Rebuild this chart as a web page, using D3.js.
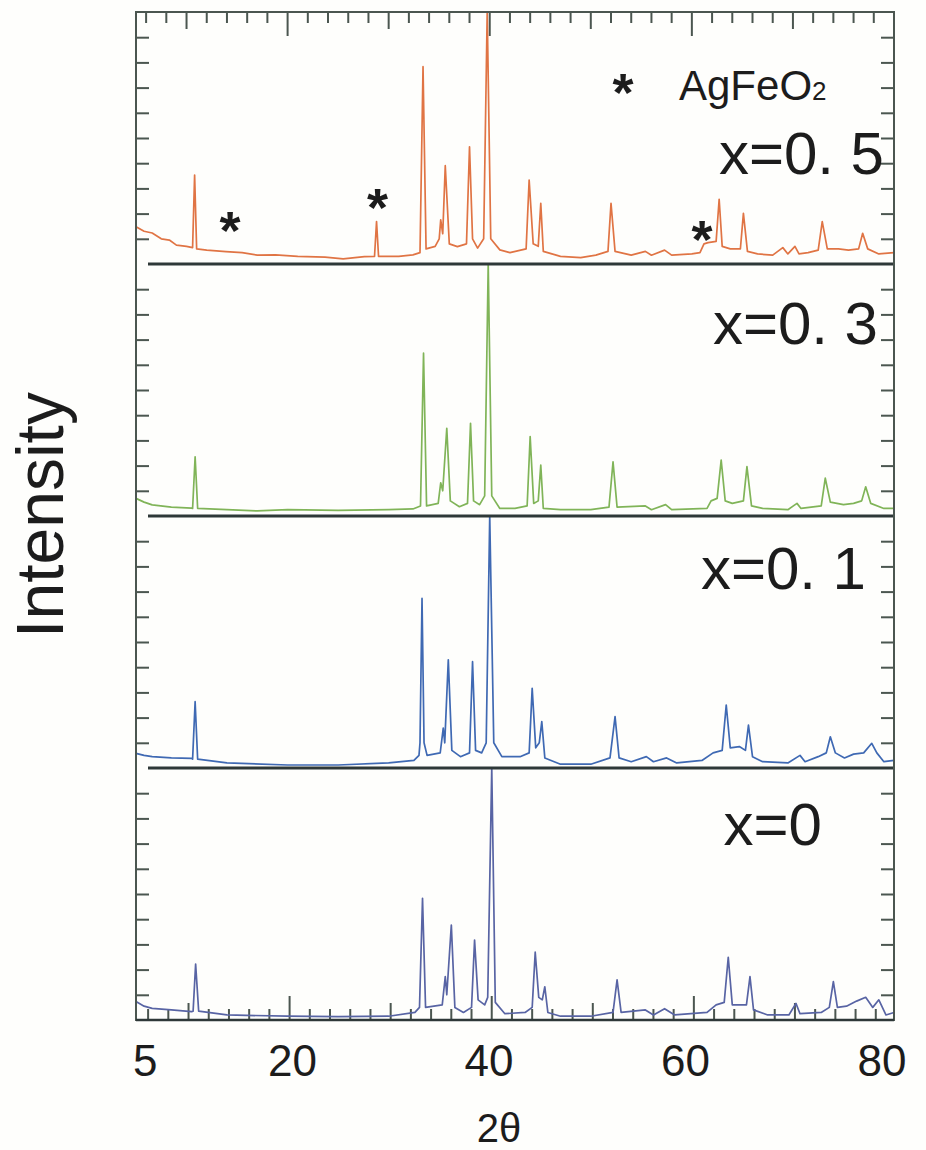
<!DOCTYPE html>
<html>
<head>
<meta charset="utf-8">
<script src="https://cdn.jsdelivr.net/npm/d3@7"></script>
<style>
  body { margin: 0; background: #fefefc; }
  text { font-family: "Liberation Sans", Arial, sans-serif; fill: #1c1c1c; }
</style>
</head>
<body>
<div id="svg-area"></div>
<script>
// XRD patterns: [2theta, intensity] (10 units per panel)
var pattern05 = [
  [5.0, 1.48], [5.8, 1.3], [6.6, 1.23], [7.5, 1.0], [8.3, 0.95], [9.0, 0.75], [10.0, 0.7], [10.6, 0.65],
  [10.8, 3.53], [11.0, 0.6], [12.0, 0.55], [13.9, 0.49], [15.5, 0.45], [17.0, 0.35], [18.8, 0.36],
  [21.0, 0.3], [23.7, 0.27], [25.5, 0.2], [27.6, 0.29], [28.6, 0.3], [28.8, 1.68], [29.0, 0.3],
  [31.0, 0.3], [32.4, 0.36], [33.1, 0.45], [33.4, 7.83], [33.7, 0.6], [34.6, 0.7], [35.0, 1.0],
  [35.15, 1.75], [35.35, 1.2], [35.6, 3.9], [36.0, 0.8], [36.8, 0.69], [37.7, 0.8], [38.0, 4.65],
  [38.3, 1.0], [38.8, 0.63], [39.4, 1.0], [39.75, 10], [40.1, 1.0], [41.0, 0.56], [42.0, 0.45],
  [43.6, 0.6], [43.9, 3.33], [44.3, 0.8], [44.8, 0.7], [45.05, 2.41], [45.3, 0.5], [47.0, 0.3],
  [49.0, 0.25], [50.5, 0.35], [51.7, 0.5], [52.0, 2.41], [52.4, 0.5], [54.0, 0.35], [55.4, 0.5],
  [56.0, 0.35], [57.3, 0.55], [58.0, 0.35], [60.0, 0.4], [60.8, 0.45], [61.2, 0.8], [61.6, 0.85],
  [62.4, 0.9], [62.7, 2.57], [63.0, 0.7], [63.8, 0.6], [64.8, 0.6], [65.1, 2.01], [65.5, 0.5],
  [66.5, 0.4], [68.0, 0.35], [69.0, 0.65], [69.5, 0.4], [70.2, 0.7], [70.6, 0.4], [71.5, 0.45],
  [72.5, 0.55], [72.9, 1.68], [73.4, 0.6], [74.5, 0.6], [75.5, 0.55], [76.5, 0.6], [76.9, 1.22],
  [77.4, 0.6], [78.5, 0.4], [80.0, 0.45]
];

var pattern03 = [
  [5.0, 0.7], [5.8, 0.55], [6.6, 0.44], [8.5, 0.35], [10.5, 0.31], [10.6, 0.3], [10.85, 2.35],
  [11.1, 0.3], [14.0, 0.25], [17.0, 0.2], [20.0, 0.25], [25.0, 0.22], [30.0, 0.25], [32.4, 0.28],
  [33.15, 0.4], [33.45, 6.46], [33.75, 0.4], [34.9, 0.5], [35.15, 1.32], [35.35, 1.0], [35.75, 3.48],
  [36.1, 0.6], [37.0, 0.37], [37.8, 0.5], [38.1, 3.68], [38.4, 0.6], [39.0, 0.45], [39.5, 0.8],
  [39.85, 10], [40.2, 0.8], [41.0, 0.3], [42.5, 0.3], [43.7, 0.4], [44.0, 3.15], [44.35, 0.5],
  [44.8, 0.6], [45.05, 2.02], [45.3, 0.3], [47.0, 0.25], [50.0, 0.25], [51.8, 0.35], [52.2, 2.15],
  [52.6, 0.35], [55.4, 0.4], [56.0, 0.25], [57.4, 0.45], [58.0, 0.25], [61.5, 0.3], [61.9, 0.6],
  [62.5, 0.7], [62.9, 2.22], [63.3, 0.6], [64.0, 0.5], [65.1, 0.6], [65.45, 1.96], [65.9, 0.4],
  [67.0, 0.3], [69.5, 0.25], [70.4, 0.5], [70.8, 0.3], [72.8, 0.4], [73.2, 1.5], [73.7, 0.55],
  [75.0, 0.45], [76.0, 0.5], [76.8, 0.6], [77.2, 1.16], [77.7, 0.5], [79.0, 0.3], [80.0, 0.3]
];

var pattern01 = [
  [5.0, 0.58], [5.8, 0.5], [6.6, 0.45], [8.5, 0.4], [10.5, 0.38], [10.6, 0.35], [10.85, 2.63],
  [11.1, 0.35], [14.0, 0.2], [20.0, 0.12], [25.0, 0.12], [30.0, 0.2], [32.5, 0.3], [33.0, 0.5],
  [33.1, 1.0], [33.3, 6.73], [33.5, 1.0], [33.8, 0.5], [35.1, 0.6], [35.4, 1.58], [35.55, 1.0],
  [35.9, 4.29], [36.25, 0.7], [37.1, 0.45], [38.0, 0.6], [38.3, 4.22], [38.6, 0.7], [39.2, 0.6],
  [39.65, 1.0], [40.0, 10], [40.4, 1.0], [41.2, 0.45], [43.0, 0.45], [43.9, 0.6], [44.2, 3.16],
  [44.55, 0.8], [44.9, 1.0], [45.15, 1.84], [45.45, 0.4], [47.0, 0.15], [50.0, 0.15], [51.9, 0.4],
  [52.4, 2.04], [52.8, 0.4], [54.0, 0.25], [55.5, 0.45], [56.2, 0.25], [57.5, 0.4], [58.5, 0.2],
  [61.0, 0.3], [62.1, 0.6], [63.0, 0.7], [63.4, 2.5], [63.8, 0.8], [64.7, 0.85], [65.3, 0.7],
  [65.6, 1.7], [66.0, 0.45], [67.0, 0.25], [69.5, 0.2], [70.7, 0.5], [71.2, 0.25], [72.5, 0.45],
  [73.3, 0.6], [73.7, 1.24], [74.2, 0.6], [75.1, 0.4], [76.0, 0.55], [77.0, 0.6], [77.8, 0.98],
  [78.3, 0.6], [79.0, 0.25], [80.0, 0.3]
];

var pattern00 = [
  [5.0, 0.73], [5.8, 0.55], [6.6, 0.46], [8.5, 0.4], [10.5, 0.33], [10.65, 0.35], [10.9, 2.22],
  [11.2, 0.35], [14.0, 0.2], [20.0, 0.15], [25.0, 0.13], [30.0, 0.15], [32.6, 0.3], [33.05, 0.5],
  [33.35, 4.83], [33.65, 0.5], [35.3, 0.6], [35.6, 1.72], [35.75, 1.0], [36.2, 3.77], [36.55, 0.5],
  [37.4, 0.3], [38.2, 0.5], [38.5, 3.17], [38.85, 0.8], [39.5, 0.6], [39.8, 0.9], [40.2, 10],
  [40.55, 0.7], [41.5, 0.25], [43.5, 0.3], [44.2, 0.5], [44.5, 2.69], [44.85, 0.9], [45.2, 0.8],
  [45.45, 1.32], [45.75, 0.3], [47.0, 0.15], [50.0, 0.15], [52.2, 0.3], [52.6, 1.59], [53.0, 0.3],
  [55.4, 0.4], [56.2, 0.2], [57.3, 0.45], [58.3, 0.2], [61.5, 0.3], [62.4, 0.6], [63.2, 0.7],
  [63.6, 2.49], [64.0, 0.6], [65.4, 0.6], [65.75, 1.72], [66.1, 0.4], [67.5, 0.2], [69.6, 0.2],
  [70.3, 0.66], [70.7, 0.25], [72.8, 0.3], [73.6, 0.5], [74.0, 1.52], [74.4, 0.5], [75.3, 0.55],
  [76.3, 0.75], [77.2, 0.9], [77.9, 0.5], [78.5, 0.8], [79.2, 0.2], [80.0, 0.3]
];

var panelLabels = ["x=0. 5", "x=0. 3", "x=0. 1", "x=0"];
var patterns = [pattern05, pattern03, pattern01, pattern00];
var xTickLabels = [5, 20, 40, 60, 80];
// AgFeO2 reflections marked in the x=0.5 pattern: [2theta, height of the mark]
var agfeo2Marks = [[14.3, 1.65], [28.9, 2.55], [61.0, 1.3]];

var svgWidth = 926;
var svgHeight = 1150;
var frame = { left: 136, right: 894, top: 12, bottom: 1020 };
var panelHeight = (frame.bottom - frame.top) / patterns.length;

var svg = d3.select("#svg-area")
  .append("svg")
  .attr("width", svgWidth)
  .attr("height", svgHeight);

var xScale = d3.scaleLinear()
  .domain([5, 80])
  .range([frame.left, frame.right]);

var colors = d3.scaleOrdinal()
  .domain(panelLabels)
  .range(["#e07444", "#80b458", "#3f69b3", "#5864a4"]);

// one y scale per panel
var yScales = patterns.map(function(p, i) {
  var bottom = frame.top + panelHeight * (i + 1);
  return d3.scaleLinear().domain([0, 10]).range([bottom, bottom - panelHeight]);
});

// left / right ticks, every intensity unit in each panel
var tickColor = "#4b5650";
patterns.forEach(function(p, i) {
  var y = yScales[i];
  var g = svg.append("g");
  g.append("g")
    .attr("transform", `translate(${frame.left}, 0)`)
    .call(d3.axisRight(y).tickValues(d3.range(1, 10)).tickSize(13).tickFormat(""))
    .call(a => a.select(".domain").remove())
    .selectAll("line").attr("stroke", tickColor).attr("stroke-width", 2);
  g.append("g")
    .attr("transform", `translate(${frame.right}, 0)`)
    .call(d3.axisLeft(y).tickValues(d3.range(1, 10)).tickSize(13).tickFormat(""))
    .call(a => a.select(".domain").remove())
    .selectAll("line").attr("stroke", tickColor).attr("stroke-width", 2);
});

// top and bottom ticks every 2 degrees, longer at 10 and 20
var xTicks = d3.range(6, 80, 2);
function tickLen(v) { return v % 20 === 0 ? 24 : (v % 10 === 0 ? 17 : 11); }

svg.append("g").selectAll("line")
  .data(xTicks).enter().append("line")
  .attr("x1", d => xScale(d)).attr("x2", d => xScale(d))
  .attr("y1", frame.top).attr("y2", d => frame.top + tickLen(d))
  .attr("stroke", tickColor).attr("stroke-width", 2);

svg.append("g").selectAll("line")
  .data(xTicks).enter().append("line")
  .attr("x1", d => xScale(d) + 2).attr("x2", d => xScale(d) + 2)
  .attr("y1", frame.bottom).attr("y2", d => frame.bottom - tickLen(d))
  .attr("stroke", tickColor).attr("stroke-width", 2);

// the patterns
var line = d3.line();
patterns.forEach(function(p, i) {
  var y = yScales[i];
  svg.append("path")
    .datum(p)
    .attr("fill", "none")
    .attr("stroke", colors(panelLabels[i]))
    .attr("stroke-width", 1.7)
    .attr("stroke-linejoin", "round")
    .attr("d", line.x(d => xScale(d[0])).y(d => y(d[1])));
});

// panel separators
svg.append("g").selectAll("line")
  .data(yScales.slice(0, 3)).enter().append("line")
  .attr("x1", frame.left + 12).attr("x2", frame.right)
  .attr("y1", d => d(0)).attr("y2", d => d(0))
  .attr("stroke", "#2e3838").attr("stroke-width", 3);

// frame
svg.append("rect")
  .attr("x", frame.left).attr("y", frame.top)
  .attr("width", frame.right - frame.left).attr("height", frame.bottom - frame.top)
  .attr("fill", "none").attr("stroke", tickColor).attr("stroke-width", 2);
svg.append("line")
  .attr("x1", frame.left).attr("x2", frame.right)
  .attr("y1", frame.bottom).attr("y2", frame.bottom)
  .attr("stroke", "#2e3838").attr("stroke-width", 2.5);

// panel labels
var labelRight = [884, 878, 866, 822];
var labelBase = [174, 344, 589, 845];
svg.append("g").selectAll("text")
  .data(panelLabels).enter().append("text")
  .attr("x", (d, i) => labelRight[i])
  .attr("y", (d, i) => labelBase[i])
  .attr("text-anchor", "end")
  .style("font-size", "60px")
  .text(d => d);

// AgFeO2 marks
var starSize = 54;
var starDrop = starSize * 0.49;
svg.append("g").selectAll("text")
  .data(agfeo2Marks).enter().append("text")
  .attr("x", d => xScale(d[0]))
  .attr("y", d => yScales[0](d[1]) + starDrop)
  .attr("text-anchor", "middle")
  .style("font-size", starSize + "px")
  .style("font-weight", "bold")
  .text("*");

// legend
svg.append("text")
  .attr("x", 623).attr("y", 85 + starDrop)
  .attr("text-anchor", "middle")
  .style("font-size", starSize + "px")
  .style("font-weight", "bold")
  .text("*");
var legendText = svg.append("text")
  .attr("x", 679).attr("y", 100)
  .style("font-size", "42px");
legendText.append("tspan").text("AgFeO");
legendText.append("tspan").style("font-size", "26px").text("2");

// x tick labels (printed slightly closer together than the ticks)
var labelX = d3.scaleLinear()
  .domain([20, 80])
  .range([xScale(20) + 5, xScale(80) - 12]);
svg.append("g").selectAll("text")
  .data(xTickLabels).enter().append("text")
  .attr("x", d => d === 5 ? xScale(d) - 3 : labelX(d))
  .attr("y", 1076)
  .attr("text-anchor", d => d === 5 ? "start" : "middle")
  .style("font-size", "44px")
  .text(d => d);

// axis titles
svg.append("text")
  .attr("x", 499).attr("y", 1142)
  .attr("text-anchor", "middle")
  .style("font-size", "40px")
  .text("2θ");

svg.append("text")
  .attr("transform", "translate(63, 515) rotate(-90)")
  .attr("text-anchor", "middle")
  .style("font-size", "66px")
  .text("Intensity");
</script>
</body>
</html>
